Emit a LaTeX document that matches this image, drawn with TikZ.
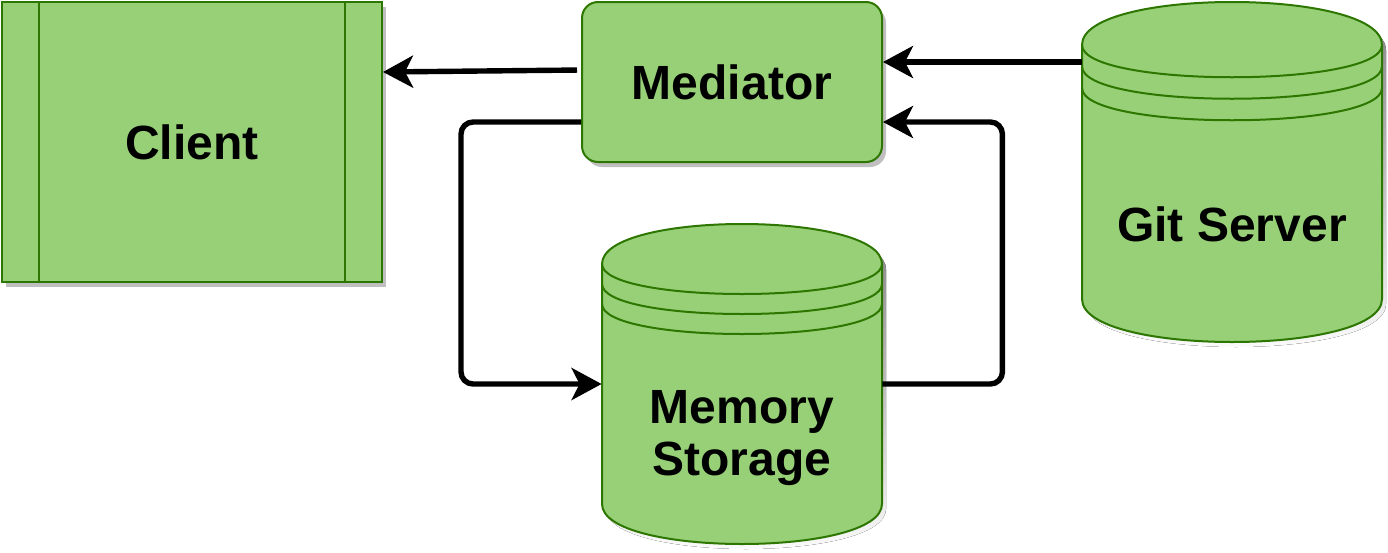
\documentclass[tikz,border=0pt]{standalone}
\usepackage{fontspec}
\setmainfont{Liberation Sans}
\usepackage{xcolor}
\usetikzlibrary{arrows.meta,shadows}

\definecolor{leaf}{HTML}{97D077}
\definecolor{leafline}{HTML}{2D7600}
\definecolor{shade}{HTML}{BFBFBF}

% drum outline and rings, drawn in the current scope: width, height, dy
\newcommand{\drumpath}[3]{(0,#3) .. controls (0,{-#3/3}) and (#1,{-#3/3}) .. (#1,#3)
  -- (#1,{#2-#3}) .. controls (#1,{#2+#3/3}) and (0,{#2+#3/3}) .. (0,{#2-#3}) -- cycle}
\newcommand{\drum}[3]{%
  \fill[shade, shift={(4,5)}] \drumpath{#1}{#2}{#3};
  \filldraw[rim] \drumpath{#1}{#2}{#3};
  \foreach \k in {1,1.5,2}
    \draw[leafline, line width=1pt] (0,{\k*#3}) .. controls (0,{(\k+1)*#3}) and (#1,{(\k+1)*#3}) .. (#1,{\k*#3});
}

\begin{document}
\begin{tikzpicture}[x=0.5pt, y=-0.5pt,
    font=\fontsize{24}{26}\selectfont\bfseries,
    rim/.style={draw=leafline, fill=leaf, line width=1pt},
    box/.style={rim, align=center,
      drop shadow={shadow xshift=2pt, shadow yshift=-2.5pt, fill=shade, opacity=1}},
    flow/.style={line width=2.7pt, -{Stealth[length=15pt,width=16pt,inset=4pt]}}]
  \useasboundingbox (0,0) rectangle (1388,552);

  % client and mediator
  \node[box, minimum width=190pt, minimum height=140pt] (client) at (192,142) {Client};
  \draw[leafline, line width=1pt] ([xshift=19pt]client.north west) -- ([xshift=19pt]client.south west);
  \draw[leafline, line width=1pt] ([xshift=-19pt]client.north east) -- ([xshift=-19pt]client.south east);
  \node[box, rounded corners=8pt, minimum width=150pt, minimum height=80pt] (med) at (732,82) {Mediator};

  % stores
  \begin{scope}[shift={(1082,2)}]
    \drum{300}{340}{43}
  \end{scope}
  \node[minimum width=150pt, minimum height=170pt, inner sep=0pt,
    label={[yshift=-26pt]center:Git Server}] (git) at (1232,172) {};
  \begin{scope}[shift={(602,224)}]
    \drum{280}{320}{40}
  \end{scope}
  \node[minimum width=140pt, minimum height=160pt, inner sep=0pt,
    label={[align=center, yshift=-27pt]center:{Memory\\Storage}}] (mem) at (742,384) {};

  % connectors
  \coordinate (medin) at ([yshift=10pt]med.east);
  \draw[flow] (git.west |- medin) -- (medin);
  \draw[flow, shorten <=2pt] ([yshift=6pt]med.west) -- ([yshift=35pt]client.east);
  \draw[flow, rounded corners=6pt] ([yshift=-20pt]med.west) -- ++(-120,0) |- (mem.west);
  \draw[flow, rounded corners=6pt] (mem.east) -- ++(120,0) |- ([yshift=-20pt]med.east);
\end{tikzpicture}
\end{document}
